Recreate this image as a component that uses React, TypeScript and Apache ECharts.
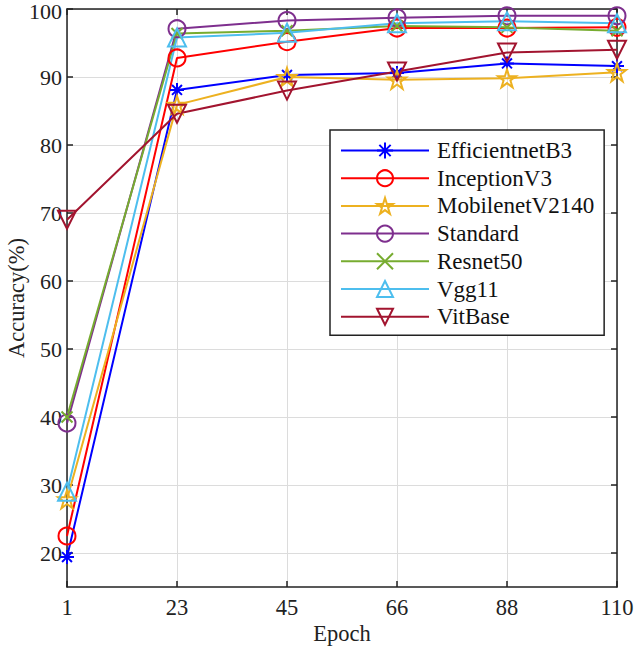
import React, { useEffect, useRef } from "react";
import * as echarts from "echarts";

const epochs = ["1", "23", "45", "66", "88", "110"];
const yTicks = [20, 30, 40, 50, 60, 70, 80, 90, 100];

const efficientnetB3 = [19.4, 88.1, 90.3, 90.6, 92.0, 91.6];
const inceptionV3 = [22.5, 92.8, 95.2, 97.2, 97.2, 97.3];
const mobilenetV2140 = [27.9, 85.9, 90.0, 89.6, 89.8, 90.7];
const standard = [39.1, 97.1, 98.3, 98.7, 99.0, 99.0];
const resnet50 = [40.0, 96.4, 96.8, 97.5, 97.3, 96.8];
const vgg11 = [29.0, 95.8, 96.5, 97.9, 98.2, 97.9];
const vitBase = [69.0, 84.6, 88.0, 90.8, 93.6, 94.0];

const FONT = "Liberation Serif";

const ASTERISK =
  "path://M10,0 L10,20 M0,10 L20,10 M2.93,2.93 L17.07,17.07 M2.93,17.07 L17.07,2.93";
const XMARK = "path://M0,0 L20,20 M0,20 L20,0";
const STAR =
  "path://M10,0 L12.245,6.91 L19.511,6.91 L13.633,11.18 L15.878,18.09 L10,13.82 L4.122,18.09 L6.367,11.18 L0.489,6.91 L7.755,6.91 Z";

export default function App() {
  const ref = useRef<HTMLDivElement>(null);
  useEffect(() => {
    if (!ref.current) return;
    const chart = echarts.init(ref.current, null, { renderer: "svg" });
    const mk = (
      name: string,
      data: number[],
      color: string,
      symbol: string,
      size: number,
      rotate = 0
    ) => ({
      name,
      type: "line",
      data,
      xAxisIndex: 0,
      yAxisIndex: 0,
      symbol,
      symbolSize: size,
      symbolRotate: rotate,
      showSymbol: true,
      lineStyle: { color, width: 2 },
      itemStyle: { color: "rgba(0,0,0,0)", borderColor: color, borderWidth: 2 },
      emphasis: { disabled: true },
      z: 3,
    });
    const topVal = yTicks[yTicks.length - 1];
    chart.setOption({
      animation: false,
      grid: {
        left: 67,
        right: 19,
        top: 9,
        bottom: 61,
        containLabel: false,
        outerBoundsMode: "none",
      },
      graphic: [
        {
          type: "text",
          x: 16,
          y: 298,
          rotation: Math.PI / 2,
          style: {
            text: "Accuracy(%)",
            align: "center",
            verticalAlign: "middle",
            fontFamily: FONT,
            fontSize: 22.5,
            fill: "#222",
          },
        },
        {
          type: "text",
          x: 342,
          y: 633,
          style: {
            text: "Epoch",
            align: "center",
            verticalAlign: "middle",
            fontFamily: FONT,
            fontSize: 22.5,
            fill: "#222",
          },
        },
      ],
      legend: {
        orient: "vertical",
        left: 330,
        top: 130,
        padding: [9, 10, 7, 10],
        itemWidth: 88,
        itemHeight: 20,
        itemGap: 4.7,
        borderColor: "#222",
        borderWidth: 1.5,
        backgroundColor: "#fff",
        textStyle: {
          fontFamily: FONT,
          fontSize: 23,
          lineHeight: 23,
          color: "#111",
          padding: [0, 0, 0, 3],
        },
        selectedMode: false,
      },
      xAxis: [
        {
          type: "category",
          data: epochs,
          boundaryGap: false,
          position: "bottom",
          axisLine: { lineStyle: { color: "#222", width: 1.5 } },
          axisTick: { inside: true, length: 6, lineStyle: { color: "#222", width: 1.5 } },
          axisLabel: { fontFamily: FONT, fontSize: 22.5, color: "#222", margin: 9 },
          splitLine: { show: true, lineStyle: { color: "#dcdcdc", width: 1 } },
        },
        {
          type: "category",
          data: epochs,
          boundaryGap: false,
          position: "top",
          axisLine: { lineStyle: { color: "#222", width: 1.5 } },
          axisTick: { inside: true, length: 6, lineStyle: { color: "#222", width: 1.5 } },
          axisLabel: { show: false },
          splitLine: { show: false },
        },
      ],
      yAxis: [
        {
          type: "value",
          min: 15,
          max: 100,
          position: "left",
          axisLine: { show: true, lineStyle: { color: "#222", width: 1.5 } },
          axisTick: {
            show: true,
            inside: true,
            length: 6,
            customValues: yTicks,
            lineStyle: { color: "#222", width: 1.5 },
          },
          axisLabel: {
            fontFamily: FONT,
            fontSize: 22,
            color: "#222",
            margin: 5,
            customValues: yTicks,
            formatter: (v: number) => (v === topVal ? `{t|${v}}` : `${v}`),
            rich: {
              t: { fontFamily: FONT, fontSize: 22, color: "#222", padding: [5, 0, 0, 0] },
            },
          },
          splitLine: { show: true, lineStyle: { color: "#dcdcdc", width: 1 } },
        },
        {
          type: "value",
          min: 15,
          max: 100,
          position: "right",
          axisLine: { show: true, lineStyle: { color: "#222", width: 1.5 } },
          axisTick: {
            show: true,
            inside: true,
            length: 6,
            customValues: yTicks,
            lineStyle: { color: "#222", width: 1.5 },
          },
          axisLabel: { show: false },
          splitLine: { show: false },
        },
      ],
      series: [
        mk("EfficientnetB3", efficientnetB3, "#0000ff", ASTERISK, 14),
        mk("InceptionV3", inceptionV3, "#ff0000", "circle", 17),
        mk("MobilenetV2140", mobilenetV2140, "#EDB120", STAR, 18),
        mk("Standard", standard, "#7E2F8E", "circle", 17),
        mk("Resnet50", resnet50, "#77AC30", XMARK, 11),
        mk("Vgg11", vgg11, "#4DBEEE", "triangle", 18),
        mk("VitBase", vitBase, "#A2142F", "triangle", 18, 180),
      ],
    });
    return () => chart.dispose();
  }, []);
  return <div ref={ref} style={{ width: 636, height: 648, position: "absolute", left: 0, top: 0 }} />;
}
